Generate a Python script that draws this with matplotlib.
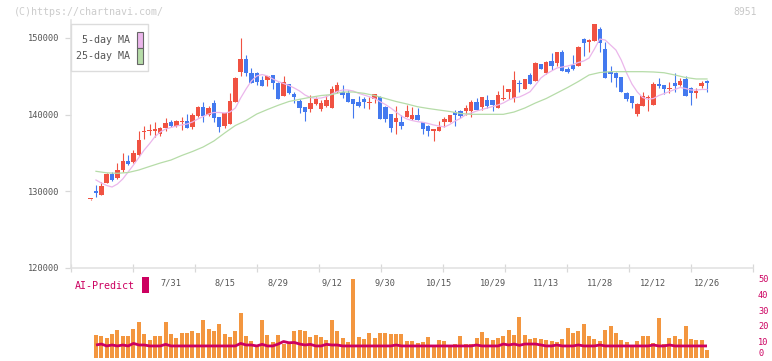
import matplotlib
matplotlib.use("Agg")
import matplotlib.pyplot as plt
import numpy as np
from matplotlib.patches import Rectangle

plt.rcParams['font.family'] = ['DejaVu Sans Mono']

# daily candles, 7/9 .. 12/26
opens = [128960, 130080, 129560, 131050, 132260, 131700, 132780, 133950, 133860, 134740,
         137770, 137800, 137870, 137430, 138220, 139000, 138520, 138980, 139170, 138430,
         139820, 140960, 139950, 141560, 139650, 138560, 138780, 141690, 145600, 147250,
         145390, 145470, 144520, 144520, 145170, 144160, 142470, 143990, 142690, 141820,
         140960, 140730, 141390, 140730, 141130, 140900, 142910, 142910, 142780, 142040,
         141690, 142040, 141560, 142040, 142340, 141030, 140080, 139080, 139080, 139730,
         139430, 139950, 139080, 138560, 137870, 137870, 139080, 139080, 140300, 140510,
         140510, 140450, 141690, 141030, 141910, 141910, 140900, 142000, 142910, 142210,
         144160, 143340, 145170, 144380, 146600, 145390, 147030, 146690, 148170, 145950,
         146470, 146340, 149860, 149430, 149640, 151170, 148520, 145520, 145470, 144870,
         142860, 142430, 140080, 141130, 142160, 141260, 143990, 143860, 143340, 144090,
         143860, 144650, 143510, 142780, 143730, 144390]
highs = [129000, 130820, 131180, 132390, 132560, 133650, 134960, 134730, 135390, 137870,
         138520, 138780, 139040, 138350, 139560, 139300, 139300, 139690, 140080, 140170,
         141160, 141690, 141130, 141910, 139730, 140250, 142860, 144950, 149950, 147780,
         146120, 145560, 145040, 145100, 145200, 144200, 145040, 144050, 142990, 142040,
         141000, 142560, 142340, 141910, 142560, 143750, 144290, 143860, 143210, 142080,
         142430, 142260, 142260, 142750, 142380, 141060, 140100, 141130, 139950, 141260,
         140950, 140830, 139100, 138600, 138100, 139170, 139730, 140000, 140600, 140600,
         141260, 141910, 142210, 142300, 142560, 141950, 143080, 143860, 143380, 145690,
         144520, 144700, 145470, 146800, 146640, 146950, 148000, 148200, 148430, 146200,
         147780, 148900, 149950, 149800, 151850, 151470, 149430, 146340, 145500, 144900,
         142900, 142450, 141480, 142910, 142560, 144290, 144820, 143900, 144290, 145390,
         144820, 145040, 143540, 143510, 144390, 144520]
lows = [128920, 129300, 129560, 131020, 131380, 131650, 132580, 133450, 133690, 134600,
        136820, 137340, 137120, 137250, 137900, 138430, 138390, 138000, 138260, 138130,
        139730, 139080, 139820, 139080, 137770, 138220, 138720, 141650, 145080, 145080,
        144100, 143860, 143700, 143730, 143340, 142000, 142440, 142740, 141560, 140250,
        139210, 140380, 141260, 140510, 140990, 140850, 142880, 142130, 141650, 139600,
        140960, 140900, 140730, 141480, 139390, 139080, 137770, 137470, 138130, 139690,
        139300, 139260, 137470, 137250, 136600, 137840, 138430, 139050, 138560, 139560,
        139950, 139730, 140560, 140600, 140900, 140510, 140860, 141960, 142040, 141690,
        142990, 143300, 143950, 144340, 145900, 145350, 145820, 146380, 145700, 145480,
        145820, 146300, 147650, 148110, 149600, 148130, 144800, 144290, 143640, 142950,
        141820, 140830, 139860, 141100, 140510, 141230, 143510, 142690, 142860, 142990,
        143730, 142440, 141260, 142210, 143430, 142990]
closes = [128960, 129820, 130690, 132260, 131480, 132780, 133950, 133520, 135030, 136690,
          137900, 137910, 138090, 138220, 138870, 138560, 139170, 139080, 138300, 139950,
          140960, 139820, 140830, 139600, 138430, 140170, 141780, 144740, 147250, 145390,
          144160, 144220, 143730, 145040, 144160, 142040, 144220, 142780, 142340, 140900,
          140380, 141560, 142040, 141560, 141910, 143340, 143860, 142560, 141690, 141350,
          141130, 141690, 141650, 142690, 139430, 139430, 138300, 139600, 138560, 140470,
          139950, 139300, 138130, 137900, 138090, 138430, 139390, 139950, 139950, 139820,
          140900, 141610, 140600, 142260, 141160, 141260, 142560, 142210, 143340, 144520,
          143990, 144650, 143990, 146770, 145950, 146900, 146380, 148170, 145730, 145520,
          145950, 148860, 149380, 149780, 151820, 149300, 144820, 145300, 144740, 142990,
          142000, 141480, 141390, 142430, 142250, 143990, 143730, 143340, 143510, 143730,
          144420, 142470, 142780, 143080, 144090, 144160]

# 5-day MA, one value per candle from 7/10
ma5 = [131480, 131080, 130760, 130560, 130950, 131610, 132520, 133430, 134400, 135390,
       136210, 137120, 137730, 138130, 138320, 138520, 138650, 138780, 139040, 139430,
       139760, 140080, 140280, 140280, 140210, 140340, 140860, 142170, 143340, 144390,
       145040, 145230, 145040, 144650, 144320, 144060, 143800, 143470, 143080, 142560,
       142230, 142130, 142170, 142340, 142690, 143010, 143210, 143210, 143080, 142780,
       142560, 142340, 142100, 141690, 141320, 140860, 140340, 139820, 139430, 139230,
       139080, 139000, 138840, 138650, 138520, 138390, 138710, 139170, 139510, 140000,
       140210, 140470, 140670, 140860, 141060, 141260, 141520, 141910, 142170, 142300,
       142620, 142990, 143860, 144770, 145300, 145690, 146080, 146210, 146340, 146540,
       146800, 146990, 147380, 148560, 149860, 149730, 149080, 148430, 147120, 145430,
       143990, 142950, 142230, 142000, 142100, 142490, 142750, 143010, 143280, 143540,
       143410, 143210, 143210, 143280, 143280]
# 25-day MA, read every second candle (candles 1, 3, 5, ...)
ma25 = [132610, 132410, 132350, 132450, 132780, 133240, 133690, 134080, 134670, 135190,
        135780, 136560, 137600, 138580, 139230, 140080, 140670, 141220, 141710, 142000,
        142260, 142490, 142620, 142950, 142950, 142780, 142490, 142100, 141710, 141390,
        141030, 140800, 140600, 140410, 140150, 140040, 140040, 140040, 140040, 140340,
        140860, 141520, 142100, 142820, 143540, 144320, 145170, 145490, 145600, 145600,
        145600, 145600, 145560, 145460, 145170, 144840, 144650, 144650]

# volume (x10k) and AI-Predict, candles 7/10 .. 12/26
volume = [14.3, 13.7, 12.4, 14.9, 17.4, 13.7, 13.7, 18.1, 22.5, 14.9,
          11.1, 13.7, 13.7, 22.5, 14.9, 12.4, 15.5, 15.5, 16.8, 15.5,
          23.7, 18.1, 16.8, 21.2, 14.9, 13.0, 16.8, 28.2, 13.7, 10.5,
          7.3, 23.7, 14.3, 9.9, 14.3, 8.6, 10.0, 16.8, 17.4, 16.8,
          13.0, 14.3, 13.0, 11.1, 23.7, 16.8, 12.4, 9.9, 49.6, 13.0,
          11.8, 15.5, 12.4, 15.5, 15.5, 14.9, 14.9, 14.9, 10.5, 10.5,
          9.2, 9.9, 13.0, 7.4, 11.1, 10.5, 8.0, 8.6, 13.7, 8.6,
          8.6, 12.4, 16.2, 12.4, 11.1, 12.4, 13.7, 17.4, 14.3, 25.6,
          14.3, 11.8, 12.4, 11.8, 11.1, 10.5, 9.9, 11.8, 18.7, 15.5,
          16.8, 21.2, 13.7, 11.8, 10.5, 17.4, 20.0, 15.5, 11.1, 9.9,
          7.4, 10.5, 13.7, 13.7, 9.2, 25.0, 8.6, 12.4, 13.7, 11.8,
          20.0, 11.8, 11.1, 11.1, 4.8, 13.0]
volume = volume[:115]
ai_predict = [8.0, 8.6, 7.4, 8.0, 7.4, 8.0, 7.4, 9.0, 8.0, 8.0,
              7.4, 7.4, 7.4, 8.4, 7.4, 7.4, 7.4, 7.4, 7.4, 7.4,
              7.4, 7.4, 7.4, 7.4, 7.4, 7.4, 7.4, 9.0, 8.0, 8.0,
              7.4, 8.4, 7.4, 7.4, 8.6, 10.2, 9.4, 9.6, 8.6, 8.0,
              8.4, 7.4, 7.4, 8.4, 8.0, 8.0, 7.4, 7.4, 7.4, 7.4,
              7.4, 7.4, 7.4, 7.4, 7.4, 7.4, 8.0, 7.4, 7.4, 7.4,
              7.4, 7.4, 7.4, 7.4, 7.4, 7.4, 7.4, 7.4, 7.4, 7.4,
              7.4, 8.0, 7.4, 7.4, 7.4, 7.4, 8.6, 8.0, 8.6, 7.8,
              8.6, 8.6, 8.6, 8.0, 7.4, 7.4, 8.0, 7.4, 7.4, 7.4,
              8.0, 7.4, 7.4, 7.4, 8.0, 7.4, 7.4, 7.4, 7.4, 7.4,
              7.4, 7.4, 7.4, 7.4, 8.0, 7.4, 7.4, 8.0, 7.4, 7.4,
              7.4, 7.4, 7.4, 7.4, 7.4]

date_labels = ['7/31', '8/15', '8/29', '9/12', '9/30', '10/15', '10/29',
               '11/13', '11/28', '12/12', '12/26']
date_candle = [15, 25, 35, 45, 55, 65, 75, 85, 95, 105, 115]
price_ticks = [120000, 130000, 140000, 150000]
vol_ticks = [0, 10, 20, 30, 40, 50]

RED, BLUE = '#f05242', '#4379ef'
ORANGE, CRIMSON = '#f3963f', '#cc0060'
PINK, GREEN = '#ebb6eb', '#b6dca8'
GRAY_TXT, AXIS = '#555555', '#e0e0e0'

W, H = 772, 361
fig = plt.figure(figsize=(W / 100, H / 100), dpi=100)
fx = lambda px: px / W
fy = lambda py: 1 - py / H

left, right = 70.5, 752.5
ax = fig.add_axes([fx(left), fy(268), fx(right) - fx(left), fy(20) - fy(268)])
axv = fig.add_axes([fx(left), fy(357.7), fx(right) - fx(left), fy(278.3) - fy(357.7)])
xlim = ((left - 90.6) / 5.36, (right - 90.6) / 5.36)

# candles
o, h, l, c = map(np.array, (opens, highs, lows, closes))
idx = np.arange(len(o))
col = np.where(c >= o, RED, BLUE)
ax.vlines(idx, l, h, colors=col, lw=0.8, zorder=2)
ax.bar(idx, np.maximum(np.abs(c - o), 150), 0.82, bottom=np.minimum(o, c),
       color=col, linewidth=0, zorder=3)
ax.plot(np.arange(1, len(ma5) + 1), ma5, color=PINK, lw=0.9, zorder=4)
ax.plot(np.arange(1, 2 * len(ma25), 2), ma25, color=GREEN, lw=0.9, zorder=4)

ax.set_xlim(*xlim)
ax.set_ylim(120000, 120000 + 248 * 130.4)
for s in ('top', 'right'):
    ax.spines[s].set_visible(False)
for s in ('left', 'bottom'):
    ax.spines[s].set_color(AXIS)
    ax.spines[s].set_linewidth(1.1)
ax.set_yticks(price_ticks)
ax.set_yticklabels([str(v) for v in price_ticks])
ax.tick_params(axis='y', direction='out', length=4.3, width=0.9, color='#d8d8d8',
               labelsize=6.2, labelcolor=GRAY_TXT, pad=4)
ax.set_xticks(np.linspace(xlim[0], xlim[1], 12))
ax.set_xticklabels([])
ax.tick_params(axis='x', which='major', direction='inout', length=6, width=0.9,
               color='#d8d8d8')
ax.set_xticks(date_candle, minor=True)
ax.set_xticklabels(date_labels, minor=True)
ax.tick_params(axis='x', which='minor', length=0, pad=7.5, labelsize=6.2,
               labelcolor=GRAY_TXT)

# volume panel
vidx = np.arange(1, len(volume) + 1)
axv.bar(vidx, volume, 0.75, color=ORANGE, linewidth=0)
axv.plot(vidx, ai_predict, color=CRIMSON, lw=2.0, solid_capstyle='butt')
axv.set_xlim(*xlim)
axv.set_ylim(0, 50)
axv.patch.set_visible(False)
for s in axv.spines.values():
    s.set_visible(False)
axv.set_xticks([])
axv.yaxis.tick_right()
axv.set_yticks(vol_ticks)
axv.tick_params(axis='y', length=0, pad=4, labelsize=6.2, labelcolor=CRIMSON)
axv.get_yticklabels()[0].set_verticalalignment('bottom')

# legend box
fig.add_artist(Rectangle((fx(70.5), fy(71)), fx(148) - fx(70.5), (71 - 24) / H,
                         transform=fig.transFigure, facecolor='white',
                         edgecolor='#dcdcdc', lw=1, zorder=5))
for label, y0, fc in (('5-day MA', 40, PINK), ('25-day MA', 56, GREEN)):
    fig.text(fx(129.5), fy(y0), label, ha='right', va='center', fontsize=7.2,
             color=GRAY_TXT, zorder=6)
    fig.add_artist(Rectangle((fx(136.5), fy(y0 + 7.5)), 6 / W, 15 / H,
                             transform=fig.transFigure, facecolor=fc,
                             edgecolor='#666666', lw=0.8, zorder=6))

fig.text(fx(75), fy(286), 'AI-Predict', ha='left', va='center', fontsize=7.2,
         color=CRIMSON)
fig.add_artist(Rectangle((fx(142), fy(293)), 7 / W, 16 / H,
                         transform=fig.transFigure, facecolor=CRIMSON,
                         edgecolor='none'))

fig.text(fx(14), fy(12), '(C)https://chartnavi.com/', ha='left', va='center',
         fontsize=7.2, color='#cccccc')
fig.text(fx(757), fy(12), '8951', ha='right', va='center', fontsize=7,
         color='#c8c8c8')

fig.savefig('out.png', dpi=100, facecolor='white')
